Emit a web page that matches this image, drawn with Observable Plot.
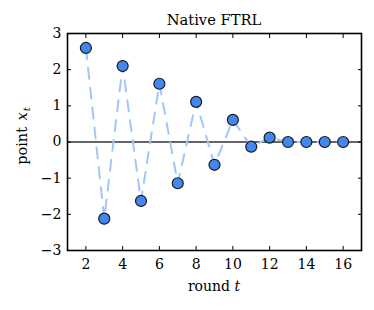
<!DOCTYPE html>
<html>
<head>
<meta charset="utf-8">
<script src="https://cdn.jsdelivr.net/npm/d3@7"></script>
<script src="https://cdn.jsdelivr.net/npm/@observablehq/plot@0.6"></script>
<style>
  body { margin: 0; background: #fff; }
  svg { font-family: "DejaVu Serif", serif; }
</style>
</head>
<body>
<div id="chart"></div>
<script>
const rounds = [2, 3, 4, 5, 6, 7, 8, 9, 10, 11, 12, 13, 14, 15, 16];
const points = [2.6, -2.12, 2.1, -1.63, 1.61, -1.14, 1.11, -0.63, 0.61, -0.13, 0.12, 0, 0, 0, 0];
const xTicks = [2, 4, 6, 8, 10, 12, 14, 16];
const yTicks = [-3, -2, -1, 0, 1, 2, 3];
const title = "Native FTRL";

const data = rounds.map((t, i) => ({t, x: points[i]}));
const fmt = d => d < 0 ? "\u2212" + Math.abs(d) : String(d);

const svg = Plot.plot({
  width: 374,
  height: 310,
  marginLeft: 67,
  marginRight: 13,
  marginTop: 33,
  marginBottom: 60,
  style: {fontFamily: "DejaVu Serif, serif", fontSize: "14px", background: "#fff", color: "#000"},
  x: {domain: [1, 17]},
  y: {domain: [-3, 3]},
  marks: [
    Plot.ruleY([0], {stroke: "#666", strokeWidth: 2}),
    Plot.line(data, {x: "t", y: "x", stroke: "#a3c5f7", strokeWidth: 2, strokeDasharray: "11,9"}),
    Plot.dot(data, {x: "t", y: "x", r: 5.5, fill: "#4286f0", stroke: "#1a1a1a", strokeWidth: 1.2}),
    Plot.axisX(xTicks, {anchor: "bottom", tickSize: -4, tickPadding: 13, tickFormat: fmt, label: null, fontSize: 14}),
    Plot.axisX(xTicks, {anchor: "top", tickSize: -4, text: null, label: null}),
    Plot.axisY(yTicks, {anchor: "left", tickSize: -4, tickPadding: 10, tickFormat: fmt, label: null, fontSize: 14}),
    Plot.axisY(yTicks, {anchor: "right", tickSize: -4, text: null, label: null}),
    Plot.frame({stroke: "#000", strokeWidth: 1.6})
  ]
});

const s = d3.select(svg);
s.append("text")
  .attr("x", 214).attr("y", 25)
  .attr("text-anchor", "middle")
  .attr("font-size", 14.7)
  .attr("fill", "#000")
  .text(title);

const xl = s.append("text")
  .attr("x", 214).attr("y", 291)
  .attr("text-anchor", "middle")
  .attr("font-size", 14)
  .attr("fill", "#000");
xl.append("tspan").text("round ");
xl.append("tspan").attr("font-style", "italic").text("t");

const yl = s.append("text")
  .attr("transform", "translate(27,136) rotate(-90)")
  .attr("text-anchor", "middle")
  .attr("font-size", 14.5)
  .attr("fill", "#000");
yl.append("tspan").text("point ");
yl.append("tspan").attr("font-style", "italic").attr("dx", 2).text("x");
yl.append("tspan").attr("font-style", "italic").attr("font-size", 10).attr("dy", 3).attr("dx", 1).text("t");

document.getElementById("chart").appendChild(svg);
</script>
</body>
</html>
